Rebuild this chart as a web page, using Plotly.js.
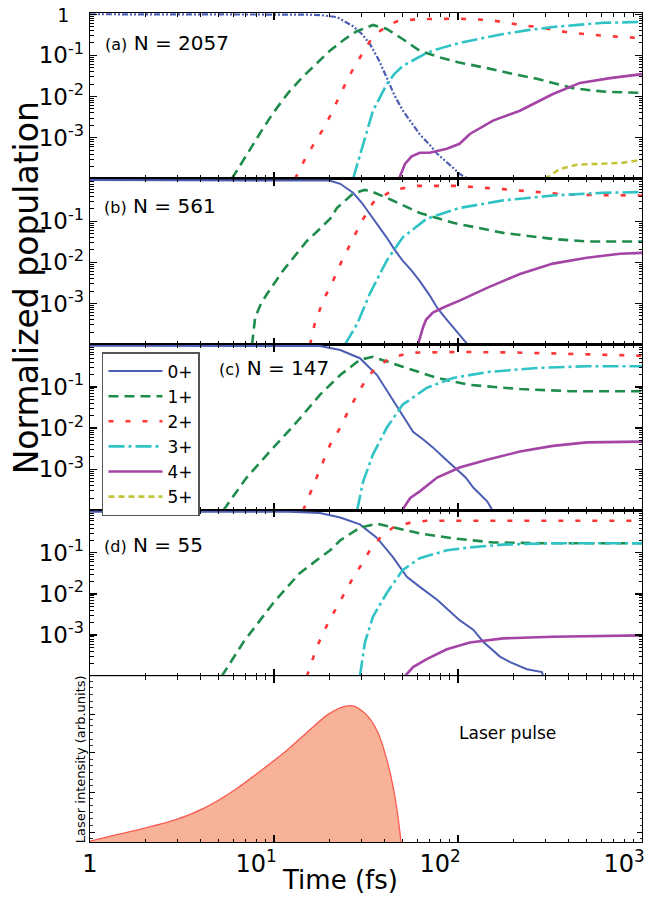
<!DOCTYPE html>
<html>
<head>
<meta charset="utf-8">
<script src="https://cdn.plot.ly/plotly-3.0.1.min.js"></script>
<style>
  html, body { margin: 0; padding: 0; background: #ffffff; }
  #chart { width: 648px; height: 899px; }
</style>
</head>
<body>
<div id="chart"></div>
<script>
// Charge-state populations (normalized) versus time in fs, four cluster sizes.

// (a) N = 2057
const tA0 = [1, 10, 15, 18, 22, 26.9, 30, 33.2, 37, 41.1, 45, 50.2, 56, 62, 70, 76.9, 90, 102.5, 113];
const pA0 = [1, 1, 0.98, 0.95, 0.85, 0.51, 0.33, 0.19, 0.079, 0.028, 0.011, 0.0045, 0.0022, 0.0012, 6.8e-4, 4.1e-4, 2.2e-4, 1.3e-4, 1e-4];
const tA1 = [5.9, 7, 8.5, 9.9, 12, 14.5, 17.8, 20.2, 24, 28, 34.5, 41, 50, 62, 80, 100, 144, 200, 269, 350, 422, 550, 670, 1000];
const pA1 = [1e-4, 3.5e-4, 1.4e-3, 4.0e-3, 0.0126, 0.0316, 0.079, 0.132, 0.24, 0.38, 0.55, 0.44, 0.25, 0.129, 0.089, 0.068, 0.049, 0.035, 0.027, 0.020, 0.016, 0.0138, 0.0129, 0.0123];
const tA2 = [13, 15, 17, 18.5, 20.2, 22, 24.4, 26.9, 30, 33.2, 37.7, 42, 47, 60, 100, 150, 217, 269, 406, 647, 1000];
const pA2 = [1e-4, 3.5e-4, 8.9e-4, 1.6e-3, 3.4e-3, 7.9e-3, 0.020, 0.047, 0.107, 0.22, 0.39, 0.55, 0.68, 0.76, 0.78, 0.72, 0.55, 0.49, 0.355, 0.295, 0.263];
const tA3 = [26.9, 28.5, 30.5, 34.5, 41, 45, 50, 67.6, 80, 102, 135, 176, 240, 328, 450, 614, 1000];
const pA3 = [1e-4, 2.5e-4, 7.1e-4, 4.5e-3, 0.020, 0.035, 0.055, 0.115, 0.148, 0.20, 0.26, 0.33, 0.41, 0.49, 0.55, 0.62, 0.65];
const tA4 = [47.8, 51.5, 56, 62, 70, 87, 102, 116, 155, 217, 328, 460, 670, 1000];
const pA4 = [1e-4, 2.3e-4, 3.5e-4, 4.3e-4, 4.3e-4, 5.4e-4, 7.1e-4, 1.23e-3, 2.6e-3, 4.5e-3, 0.0115, 0.0214, 0.028, 0.035];
const tA5 = [297, 358, 443, 614, 788, 1000];
const pA5 = [1e-4, 1.74e-4, 2.2e-4, 2.3e-4, 2.45e-4, 2.9e-4];

// (b) N = 561
const tB0 = [1, 17.8, 20, 22.9, 26.9, 30, 33.2, 37, 41, 45, 50, 56, 62, 70, 77, 85, 94, 104, 113];
const pB0 = [1, 1, 0.97, 0.81, 0.49, 0.28, 0.15, 0.079, 0.040, 0.021, 0.011, 6.3e-3, 3.5e-3, 1.6e-3, 7.9e-4, 4.5e-4, 2.6e-4, 1.6e-4, 1e-4];
const tB1 = [7.6, 7.9, 8.5, 9.2, 11.2, 15.1, 17.8, 20.2, 22, 26.9, 31, 33.2, 41, 62, 94, 176, 328, 502, 1000];
const pB1 = [1e-4, 4.6e-4, 1.0e-3, 1.74e-3, 6.3e-3, 0.033, 0.066, 0.115, 0.21, 0.47, 0.575, 0.55, 0.37, 0.158, 0.091, 0.052, 0.037, 0.032, 0.032];
const tB2 = [15.7, 16.7, 18.5, 20.9, 23.4, 26.5, 30.1, 34.5, 44.3, 60, 100, 176, 304, 406, 1000];
const pB2 = [1e-4, 3.4e-4, 1.17e-3, 3.5e-3, 0.011, 0.033, 0.102, 0.28, 0.575, 0.72, 0.72, 0.60, 0.50, 0.44, 0.42];
const tB3 = [24.3, 28.3, 33.2, 41, 50, 67.6, 102, 176, 328, 614, 1000];
const pB3 = [1e-4, 3.2e-4, 1.74e-3, 0.011, 0.040, 0.115, 0.21, 0.32, 0.42, 0.49, 0.51];
const tB4 = [60.6, 64.5, 67, 73, 85, 102, 144, 217, 328, 502, 760, 1000];
const pB4 = [1e-4, 2.6e-4, 4e-4, 6.0e-4, 8.3e-4, 1.17e-3, 2.4e-3, 5.2e-3, 9.3e-3, 0.0129, 0.0162, 0.017];

// (c) N = 147
const tC0 = [1, 17.8, 22.9, 29.3, 36.3, 41, 46.6, 57, 65, 73, 85, 98.8, 110, 121, 144, 153];
const pC0 = [1, 0.99, 0.79, 0.50, 0.195, 0.083, 0.033, 8.1e-3, 5.2e-3, 3.4e-3, 1.8e-3, 1e-3, 6.3e-4, 3.6e-4, 1.66e-4, 1.05e-4];
const tC1 = [5.3, 7.1, 9.5, 13.3, 17.8, 22.9, 29.3, 34.5, 50, 77, 116, 217, 406, 1000];
const pC1 = [1e-4, 6.3e-4, 2.7e-3, 0.0141, 0.065, 0.195, 0.46, 0.54, 0.31, 0.166, 0.112, 0.089, 0.079, 0.079];
const tC2 = [14.4, 16.3, 18.4, 20.2, 22.9, 25.2, 28.3, 32, 36.3, 42.7, 55, 100, 200, 460, 1000];
const pC2 = [1e-4, 4e-4, 1.55e-3, 4.0e-3, 0.0102, 0.025, 0.065, 0.166, 0.31, 0.50, 0.68, 0.71, 0.69, 0.63, 0.575];
const tC3 = [28.3, 30.5, 34.5, 41, 50, 67.6, 94, 144, 269, 502, 1000];
const pC3 = [1e-4, 5e-4, 2.3e-3, 0.0102, 0.037, 0.095, 0.166, 0.23, 0.29, 0.32, 0.32];
const tC4 = [49.6, 55, 62, 77, 102, 144, 217, 328, 502, 1000];
const pC4 = [1e-4, 2.0e-4, 2.9e-4, 6.3e-4, 1.1e-3, 1.7e-3, 2.7e-3, 3.7e-3, 4.5e-3, 4.7e-3];

// (d) N = 55
const tD0 = [1, 12, 17.8, 22.9, 29.3, 36.3, 44.3, 52.7, 62, 77, 102, 121, 137, 169, 192, 237, 286, 290];
const pD0 = [1, 0.99, 0.92, 0.72, 0.49, 0.23, 0.078, 0.026, 0.0148, 7.2e-3, 2.3e-3, 1.35e-3, 6.9e-4, 3.0e-4, 2.2e-4, 1.48e-4, 1.26e-4, 1e-4];
const tD1 = [5.2, 6.8, 9.9, 13.8, 17.8, 20.2, 22.9, 29.3, 36.3, 44.3, 62, 94, 155, 300, 1000];
const pD1 = [1e-4, 6.6e-4, 6.0e-3, 0.032, 0.076, 0.115, 0.20, 0.41, 0.51, 0.41, 0.295, 0.224, 0.178, 0.17, 0.17];
const tD2 = [15.1, 17.1, 19.7, 21.5, 23.7, 26.5, 29.3, 33.2, 37.7, 44.3, 55, 67.6, 1000];
const pD2 = [1e-4, 5.2e-4, 2.0e-3, 4.1e-3, 9.5e-3, 0.022, 0.045, 0.115, 0.23, 0.41, 0.54, 0.60, 0.60];
const tD3 = [29.3, 31.2, 34.5, 41, 50, 62, 87, 116, 176, 328, 1000];
const pD3 = [1e-4, 6.6e-4, 2.8e-3, 0.0105, 0.038, 0.074, 0.115, 0.135, 0.158, 0.17, 0.17];
const tD4 = [51.5, 57, 67.6, 87, 116, 176, 328, 1000];
const pD4 = [1e-4, 1.66e-4, 2.6e-4, 4.5e-4, 6.6e-4, 8.3e-4, 9.1e-4, 9.8e-4];

// Laser pulse envelope (arb. units)
const tPulse = [1, 1.4, 1.82, 2.9, 4.2, 6.14, 8.9, 11.9, 15.3, 19.7, 24.3, 27.5, 32.4, 36.7, 40.6, 44.4, 47.2, 49];
const iPulse = [0.005, 0.045, 0.073, 0.133, 0.206, 0.315, 0.448, 0.558, 0.667, 0.77, 0.818, 0.818, 0.758, 0.66, 0.515, 0.333, 0.152, 0];

const chargeNames = ['0+', '1+', '2+', '3+', '4+', '5+'];
const panelLabels = ['(a)', '(b)', '(c)', '(d)'];
const clusterSizes = ['N = 2057', 'N = 561', 'N = 147', 'N = 55'];
const xTickVals = [1, 10, 100, 1000];
const xTickText = ['1', '10<sup>1</sup>', '10<sup>2</sup>', '10<sup>3</sup>'];
const yTickVals = [1e-3, 1e-2, 1e-1, 1];
const yTickText = ['10<sup>-3</sup>', '10<sup>-2</sup>', '10<sup>-1</sup>', '1'];

const COLORS = ['#4c5eb4', '#1f8c4c', '#ff3535', '#2fc3c6', '#a444a6', '#c4c43a'];
const DASHES = ['solid', '10px,6px', '5px,12px', '16px,4px,3px,4px', 'solid', '6px,4px'];
const FONT = 'DejaVu Sans, Verdana, sans-serif';
const EN = '\u2002', NB = '\u00a0';

function series(x, y, k, idx, opts) {
  opts = opts || {};
  return {
    x: x, y: y, type: 'scatter', mode: 'lines',
    xaxis: k === 1 ? 'x' : 'x' + k,
    yaxis: k === 1 ? 'y' : 'y' + k,
    name: chargeNames[idx],
    line: { color: COLORS[idx], width: opts.width || 2.6, dash: opts.dash || DASHES[idx] },
    showlegend: !!opts.legend,
    legendrank: idx + 1,
    hoverinfo: 'skip'
  };
}

const traces = [
  series(tA0, pA0, 1, 0, { dash: '6px,2px,2px,2px,2px,2px', width: 2.2 }),
  series(tA1, pA1, 1, 1),
  series(tA2, pA2, 1, 2),
  series(tA3, pA3, 1, 3),
  series(tA4, pA4, 1, 4),
  series(tA5, pA5, 1, 5, { legend: true }),

  series(tB0, pB0, 2, 0, { width: 2 }),
  series(tB1, pB1, 2, 1),
  series(tB2, pB2, 2, 2),
  series(tB3, pB3, 2, 3),
  series(tB4, pB4, 2, 4),

  series(tC0, pC0, 3, 0, { width: 2, legend: true }),
  series(tC1, pC1, 3, 1, { legend: true }),
  series(tC2, pC2, 3, 2, { legend: true }),
  series(tC3, pC3, 3, 3, { legend: true }),
  series(tC4, pC4, 3, 4, { legend: true }),

  series(tD0, pD0, 4, 0, { width: 2 }),
  series(tD1, pD1, 4, 1),
  series(tD2, pD2, 4, 2),
  series(tD3, pD3, 4, 3),
  series(tD4, pD4, 4, 4),

  {
    x: tPulse, y: iPulse, type: 'scatter', mode: 'lines',
    xaxis: 'x5', yaxis: 'y5', fill: 'tozeroy',
    fillcolor: '#f7b298', line: { color: '#fa5a52', width: 1.3, shape: 'spline', smoothing: 0.8 },
    showlegend: false, hoverinfo: 'skip'
  }
];

// minor tick positions for log axes
function minorLog(lo, hi) {
  const out = [];
  for (let e = lo; e < hi; e++) for (let m = 2; m <= 9; m++) out.push(m * Math.pow(10, e));
  return out;
}

const frame = { showline: true, linecolor: '#000000', linewidth: 1.4, mirror: 'allticks', ticks: 'inside', tickcolor: '#000000', zeroline: false, showgrid: false };

// power-of-ten labels carry trailing space so the exponent sits left of the tick
const xLabels = xTickText.map((s, i) => i === 0 ? s : s + EN + EN + EN);

function xAxis(k) {
  return Object.assign({}, frame, {
    type: 'log', range: [0, 3], anchor: k === 1 ? 'y' : 'y' + k,
    tickmode: 'array', tickvals: xTickVals, ticktext: xLabels,
    ticklen: 7, tickwidth: 1.3,
    minor: { tickmode: 'array', tickvals: minorLog(0, 3), ticklen: 3.5, tickwidth: 1, tickcolor: '#000000', ticks: 'inside' },
    showticklabels: k === 5,
    ticklabeloverflow: 'allow',
    tickfont: { family: FONT, size: 24, color: '#000000' }
  });
}

const panelH = 0.2;
function yLog(k, withOne) {
  const n = withOne ? 4 : 3;
  const txt = yTickText.slice(0, n).map(s => s === '1' ? '<span style="font-size:19px">1</span>' + NB + NB : s);
  return Object.assign({}, frame, {
    type: 'log', range: [-4, 0.03], anchor: k === 1 ? 'x' : 'x' + k,
    domain: [1 - k * panelH, 1 - (k - 1) * panelH],
    tickmode: 'array', tickvals: yTickVals.slice(0, n), ticktext: txt,
    ticklen: 7, tickwidth: 1.3,
    minor: { tickmode: 'array', tickvals: minorLog(-4, 0), ticklen: 3.5, tickwidth: 1, tickcolor: '#000000', ticks: 'inside' },
    tickfont: { family: FONT, size: 23, color: '#000000' }
  });
}

const layout = {
  width: 648, height: 899,
  margin: { l: 90, r: 6, t: 13, b: 57, pad: 0 },
  paper_bgcolor: '#ffffff', plot_bgcolor: '#ffffff',
  font: { family: FONT, color: '#000000' },
  showlegend: true,
  legend: {
    x: 0.0217, y: 0.591, xanchor: 'left', yanchor: 'top',
    bgcolor: '#ffffff', bordercolor: '#555555', borderwidth: 1.5,
    font: { family: FONT, size: 17, color: '#000000' },
    itemwidth: 54, tracegroupgap: 0
  },
  xaxis: xAxis(1), xaxis2: xAxis(2), xaxis3: xAxis(3), xaxis4: xAxis(4), xaxis5: xAxis(5),
  yaxis: yLog(1, true), yaxis2: yLog(2, false), yaxis3: yLog(3, false), yaxis4: yLog(4, false),
  yaxis5: Object.assign({}, frame, {
    range: [0, 1], anchor: 'x5', domain: [0, panelH],
    tickmode: 'array', tickvals: [0.06, 0.3, 0.54, 0.77], showticklabels: false,
    ticklen: 5, tickwidth: 1,
    minor: { tickmode: 'array', tickvals: [0.02, 0.1, 0.14, 0.18, 0.22, 0.26, 0.34, 0.38, 0.42, 0.46, 0.5, 0.58, 0.62, 0.66, 0.7, 0.74, 0.81, 0.85, 0.89, 0.93, 0.97], ticklen: 2.5, tickwidth: 0.8, ticks: 'inside', tickcolor: '#000000' }
  }),
  annotations: []
};

// panel labels
const labelPos = [
  { x: 0.0236, y: 0.818 },
  { x: 0.0218, y: 0.837 },
  { x: 0.230, y: 0.86 },
  { x: 0.0218, y: 0.79 }
];
panelLabels.forEach((lab, i) => {
  const k = i + 1;
  layout.annotations.push({
    xref: (k === 1 ? 'x' : 'x' + k) + ' domain', yref: (k === 1 ? 'y' : 'y' + k) + ' domain',
    x: labelPos[i].x, y: labelPos[i].y, xanchor: 'left', yanchor: 'middle', showarrow: false,
    text: '<span style="font-size:16px">' + lab + '</span> ' + clusterSizes[i],
    font: { family: FONT, size: 20, color: '#000000' }
  });
});

layout.annotations.push(
  { xref: 'x5 domain', yref: 'y5 domain', x: 0.757, y: 0.655, xanchor: 'center', yanchor: 'middle', showarrow: false,
    text: 'Laser pulse', font: { family: FONT, size: 17, color: '#000000' } },
  { xref: 'paper', yref: 'paper', x: -0.116, y: 0.669, xanchor: 'center', yanchor: 'middle', showarrow: false, textangle: -90,
    text: 'Normalized population', font: { family: FONT, size: 33, color: '#000000' } },
  { xref: 'paper', yref: 'paper', x: -0.018, y: 0.1, xanchor: 'center', yanchor: 'middle', showarrow: false, textangle: -90,
    text: 'Laser intensity (arb.units)', font: { family: FONT, size: 13, color: '#000000' } },
  { xref: 'paper', yref: 'paper', x: 0.453, y: -0.046, xanchor: 'center', yanchor: 'middle', showarrow: false,
    text: 'Time (fs)', font: { family: FONT, size: 26, color: '#000000' } }
);

Plotly.newPlot('chart', traces, layout, { staticPlot: true, displayModeBar: false });
</script>
</body>
</html>
